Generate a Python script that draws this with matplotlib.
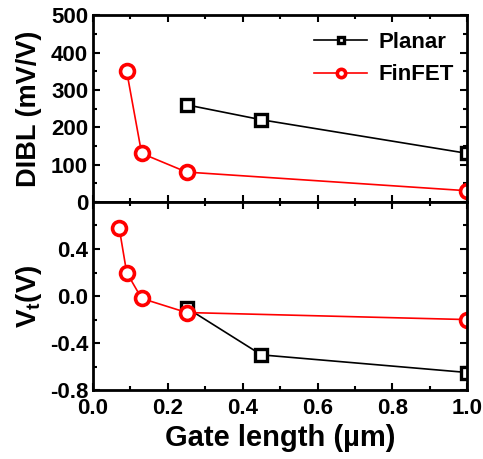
import matplotlib
matplotlib.use('Agg')
import matplotlib.pyplot as plt
from matplotlib.ticker import MultipleLocator

plt.rcParams['font.family'] = ['Liberation Sans', 'DejaVu Sans']
plt.rcParams['font.weight'] = 'bold'
plt.rcParams['axes.unicode_minus'] = False
plt.rcParams['mathtext.fontset'] = 'custom'
plt.rcParams['mathtext.bf'] = 'Liberation Sans:bold'
plt.rcParams['mathtext.rm'] = 'Liberation Sans:bold'

# DIBL data
dibl_planar_x = [0.25, 0.45, 1.0]
dibl_planar_y = [260, 220, 130]
dibl_fin_x = [0.09, 0.13, 0.25, 1.0]
dibl_fin_y = [350, 130, 80, 30]

# Vt data
vt_planar_x = [0.25, 0.45, 1.0]
vt_planar_y = [-0.10, -0.50, -0.65]
vt_fin_x = [0.07, 0.09, 0.13, 0.25, 1.0]
vt_fin_y = [0.58, 0.20, -0.02, -0.14, -0.20]

fig = plt.figure(figsize=(4.83, 4.59), dpi=100)
ax1 = fig.add_axes([0.1925, 0.560, 0.775, 0.407])
ax2 = fig.add_axes([0.1925, 0.150, 0.775, 0.410])

sq = dict(color='black', marker='s', mfc='white', mec='black', ms=8, mew=2.4, lw=1.2)
ci = dict(color='red', marker='o', mfc='white', mec='red', ms=10, mew=2.6, lw=1.2)

ax1.plot(dibl_planar_x, dibl_planar_y, label='Planar', **sq)
ax1.plot(dibl_fin_x, dibl_fin_y, label='FinFET', **ci)
ax2.plot(vt_planar_x, vt_planar_y, **sq)
ax2.plot(vt_fin_x, vt_fin_y, **ci)

for ax in (ax1, ax2):
    ax.set_xlim(0, 1.0)
    ax.xaxis.set_major_locator(MultipleLocator(0.2))
    ax.xaxis.set_minor_locator(MultipleLocator(0.1))
    ax.tick_params(which='both', direction='in', top=True, right=True, width=1.5, labelsize=16)
    ax.tick_params(which='major', length=5)
    ax.tick_params(which='minor', length=3)
    ax.tick_params(axis='x', pad=6)
    for s in ax.spines.values():
        s.set_linewidth(2)

ax1.set_ylim(0, 500)
ax1.yaxis.set_major_locator(MultipleLocator(100))
ax1.yaxis.set_minor_locator(MultipleLocator(50))
ax1.tick_params(labelbottom=False)
ax1.set_ylabel('DIBL (mV/V)', fontsize=19.5, fontweight='bold')
ax1.yaxis.set_label_coords(-0.137, 0.5)
ax1.legend(loc='upper right', frameon=False, fontsize=16, numpoints=1,
           markerscale=0.6, handlelength=2.4, handletextpad=0.5,
           borderaxespad=0.2, bbox_to_anchor=(1.0, 0.98))

ax2.set_ylim(-0.8, 0.8)
ax2.set_yticks([-0.8, -0.4, 0.0, 0.4])
ax2.yaxis.set_minor_locator(MultipleLocator(0.2))
ax2.set_ylabel(r'$\mathbf{V_t(V)}$', fontsize=20)
ax2.yaxis.set_label_coords(-0.13, 0.5)
ax2.set_xlabel('Gate length (µm)', fontsize=21, fontweight='bold', labelpad=3)

fig.savefig('out.png', dpi=100)
